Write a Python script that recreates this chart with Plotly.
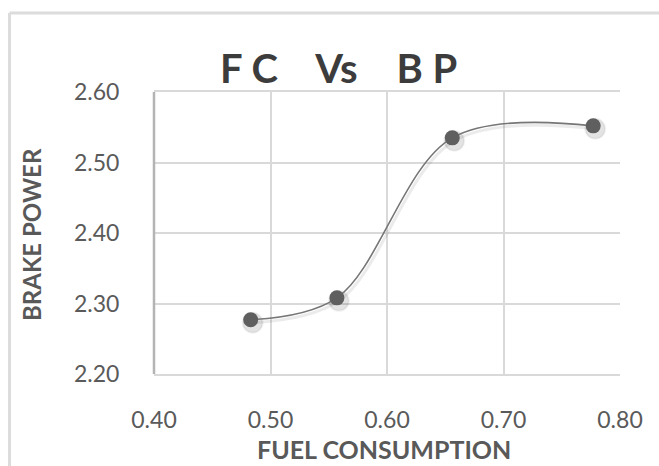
import plotly.graph_objects as go

# Fuel consumption vs brake power readings
fuel_consumption = [0.483, 0.557, 0.656, 0.777]
brake_power = [2.277, 2.308, 2.535, 2.552]

x_ticks = [0.40, 0.50, 0.60, 0.70, 0.80]
y_ticks = [2.20, 2.30, 2.40, 2.50, 2.60]

W, H = 659, 466
L, R, T, B = 154, 620, 92, 374

FONT = "Lato"
GRID = "#d9d9d9"
TICK_COLOR = "#5a5a5a"

fig = go.Figure()

# invisible trace so the gridded base axes are drawn
fig.add_trace(go.Scatter(
    x=fuel_consumption, y=brake_power, mode="markers",
    marker=dict(size=1, opacity=0), hoverinfo="skip", showlegend=False,
))

# soft drop shadow for the curve and markers (drawn on a slightly shifted axis pair)
dx, dy = 2, 3
fig.add_trace(go.Scatter(
    x=fuel_consumption, y=brake_power, xaxis="x2", yaxis="y2",
    mode="lines+markers",
    line=dict(shape="spline", smoothing=1, color="rgba(0,0,0,0.08)", width=3),
    marker=dict(size=20, color="rgba(0,0,0,0.11)",
                line=dict(width=2, color="rgba(0,0,0,0.05)")),
    hoverinfo="skip", showlegend=False,
))

fig.add_trace(go.Scatter(
    x=fuel_consumption, y=brake_power, xaxis="x3", yaxis="y3",
    mode="lines+markers",
    line=dict(shape="spline", smoothing=1, color="#767676", width=1.6),
    marker=dict(size=15, color="#5f5f5f", line=dict(width=0)),
    showlegend=False,
))

dom_x = [L / W, R / W]
dom_y = [1 - B / H, 1 - T / H]
sh_x = [(L + dx) / W, (R + dx) / W]
sh_y = [1 - (B + dy) / H, 1 - (T + dy) / H]

axis_font = dict(family=FONT, size=23, color=TICK_COLOR)

fig.update_layout(
    width=W, height=H,
    margin=dict(l=0, r=0, t=0, b=0, autoexpand=False),
    paper_bgcolor="white", plot_bgcolor="rgba(0,0,0,0)",
    showlegend=False,
    xaxis=dict(
        domain=dom_x, range=[0.4, 0.8], tickvals=x_ticks,
        ticktext=[f"{v:.2f}" for v in x_ticks],
        showgrid=True, gridcolor=GRID, gridwidth=1.5,
        zeroline=False, showline=True, linecolor=GRID, linewidth=2,
        mirror=True, automargin=False,
        ticks="outside", ticklen=24, tickcolor="rgba(0,0,0,0)",
        tickfont=axis_font,
    ),
    yaxis=dict(
        domain=dom_y, range=[2.2, 2.6], tickvals=y_ticks,
        ticktext=[f"{v:.2f}" for v in y_ticks],
        showgrid=True, gridcolor=GRID, gridwidth=1.5,
        zeroline=False, showline=False, automargin=False,
        ticks="outside", ticklen=29, tickcolor="rgba(0,0,0,0)",
        tickfont=axis_font,
    ),
    xaxis2=dict(domain=sh_x, range=[0.4, 0.8], visible=False, anchor="y2"),
    yaxis2=dict(domain=sh_y, range=[2.2, 2.6], visible=False, anchor="x2"),
    xaxis3=dict(domain=dom_x, range=[0.4, 0.8], visible=False, anchor="y3"),
    yaxis3=dict(domain=dom_y, range=[2.2, 2.6], visible=False, anchor="x3"),
)

# outer chart frame: top and left edges (the rest runs off the canvas)
fig.add_shape(type="line", xref="paper", yref="paper",
              x0=9.5 / W, x1=1, y0=1 - 13 / H, y1=1 - 13 / H,
              line=dict(color="#dcdcdc", width=3), layer="below")
fig.add_shape(type="line", xref="paper", yref="paper",
              x0=9.5 / W, x1=9.5 / W, y0=0, y1=1 - 13 / H,
              line=dict(color="#dcdcdc", width=3), layer="below")

# darker vertical axis line on the left of the plot area
fig.add_shape(type="line", xref="paper", yref="paper",
              x0=L / W, x1=L / W, y0=dom_y[0], y1=dom_y[1],
              line=dict(color="#b4b4b4", width=2.5))

fig.add_annotation(
    text="F C\u00a0\u00a0\u00a0\u00a0Vs\u00a0\u00a0\u00a0\u00a0B P",
    xref="paper", yref="paper", x=338 / W, y=1 - 68 / H,
    showarrow=False, xanchor="center", yanchor="middle",
    font=dict(family=FONT, size=40, color="#3c3c3c", weight=700),
)
fig.add_annotation(
    text="FUEL CONSUMPTION",
    xref="paper", yref="paper", x=384 / W, y=1 - 449 / H,
    showarrow=False, xanchor="center", yanchor="middle",
    font=dict(family=FONT, size=25, color="#595959", weight=700),
)
fig.add_annotation(
    text="BRAKE POWER",
    xref="paper", yref="paper", x=31 / W, y=1 - 235 / H,
    showarrow=False, xanchor="center", yanchor="middle", textangle=-90,
    font=dict(family=FONT, size=24, color="#595959", weight=700),
)

fig.write_html("out.html")
